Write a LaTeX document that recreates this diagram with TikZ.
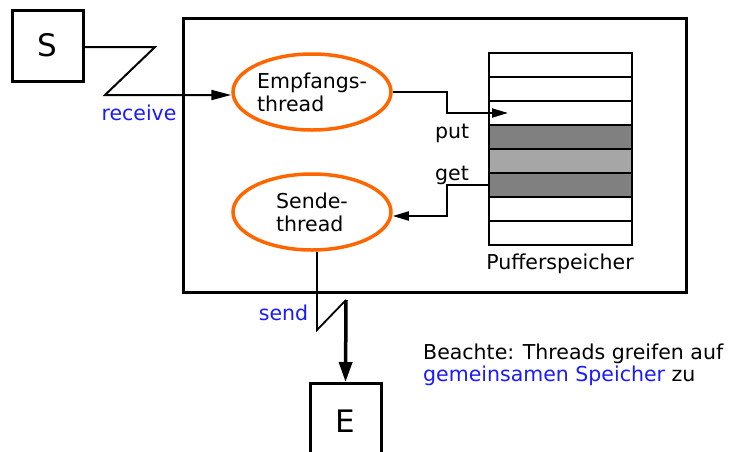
\documentclass[tikz,border=0pt]{standalone}
\usepackage{fontspec}
\setmainfont{DejaVu Sans}
\usetikzlibrary{arrows.meta,shapes.geometric}
\definecolor{threadorange}{HTML}{FF6600}
\definecolor{labelblue}{HTML}{1A1AFF}
\definecolor{slotdark}{HTML}{808080}
\definecolor{slotlight}{HTML}{A6A6A6}
\begin{document}
\begin{tikzpicture}[x=1pt,y=-1pt,
  txt/.style={font=\fontsize{20.5}{23}\selectfont, inner sep=0pt},
  hostbox/.style={draw, line width=3pt, fill=white, inner sep=0pt,
    font=\fontsize{31}{36}\selectfont},
  thread/.style={ellipse, draw=threadorange, line width=3.5pt, fill=white,
    minimum width=158pt, minimum height=76pt, inner sep=0pt, align=left, txt},
  slot/.style={draw, line width=2.5pt, minimum width=143pt, minimum height=24pt, inner sep=0pt},
  link/.style={line width=2pt},
  tip/.style={-{Triangle[length=16pt,width=9pt]}},
  bluelabel/.style={txt, text=labelblue}]
\useasboundingbox (0,0) rectangle (733,451);
\clip (0,0) rectangle (733,451);

% process frame
\node[draw, line width=3pt, minimum width=503pt, minimum height=274pt, inner sep=0pt]
  (proc) at (434.5,155) {};

% sender and receiver hosts
\node[hostbox, minimum width=71pt, minimum height=71pt] (S) at (47.5,45.5) {S};
\node[hostbox, minimum width=71pt, minimum height=76pt, anchor=north] (E) at (345.5,382) {E};

% threads
\node[thread] (recv) at (312,92) {Empfangs-\\thread};
\node[thread] (send) at (312,212) {Sende-\\thread};

% shared buffer
\foreach \i/\c in {1/white,2/white,3/white,4/slotdark,5/slotlight,6/slotdark,7/white,8/white}
  \node[slot, fill=\c] (r\i) at (560.5,41+24*\i) {};
\node[txt, anchor=base] (buflabel) at (560,269) {Pufferspeicher};

% incoming message
\coordinate (zin1) at (155,47);
\coordinate (zin2) at (105,95);
\draw[link, -{Triangle[length=20pt,width=10pt]}] (S.east |- zin1) -- (zin1) -- (zin2) -- ([yshift=-3pt]recv.west);
\node[bluelabel] (receive) at (139,113) {receive};

% put into buffer
\coordinate (puttip) at (508,113);
\draw[link, tip] (recv.east) -- ++(54,0) |- (puttip);
\node[txt, anchor=base west] (put) at (435,138) {put};

% get from buffer
\draw[link, tip] (r6.west) -- ++(-41,0) |- ([yshift=-4pt]send.east);
\node[txt, anchor=base west] (get) at (435,180) {get};

% outgoing message
\coordinate (zout1) at (317,330);
\coordinate (zout2) at (346,300);
\draw[line width=1.8pt] ([xshift=5pt]send.south) -- (zout1) -- (zout2);
\draw[line width=3.5pt, -{Triangle[length=20pt,width=13pt]}] (zout2) -- (E.north);
\node[bluelabel] (sendlabel) at (283.5,313) {send};

% note
\node[txt, anchor=base west] (note1) at (423,359) {Beachte: Threads greifen auf};
\node[txt, anchor=base west] (note2) at (423,381) {\textcolor{labelblue}{gemeinsamen Speicher} zu};
\end{tikzpicture}
\end{document}
